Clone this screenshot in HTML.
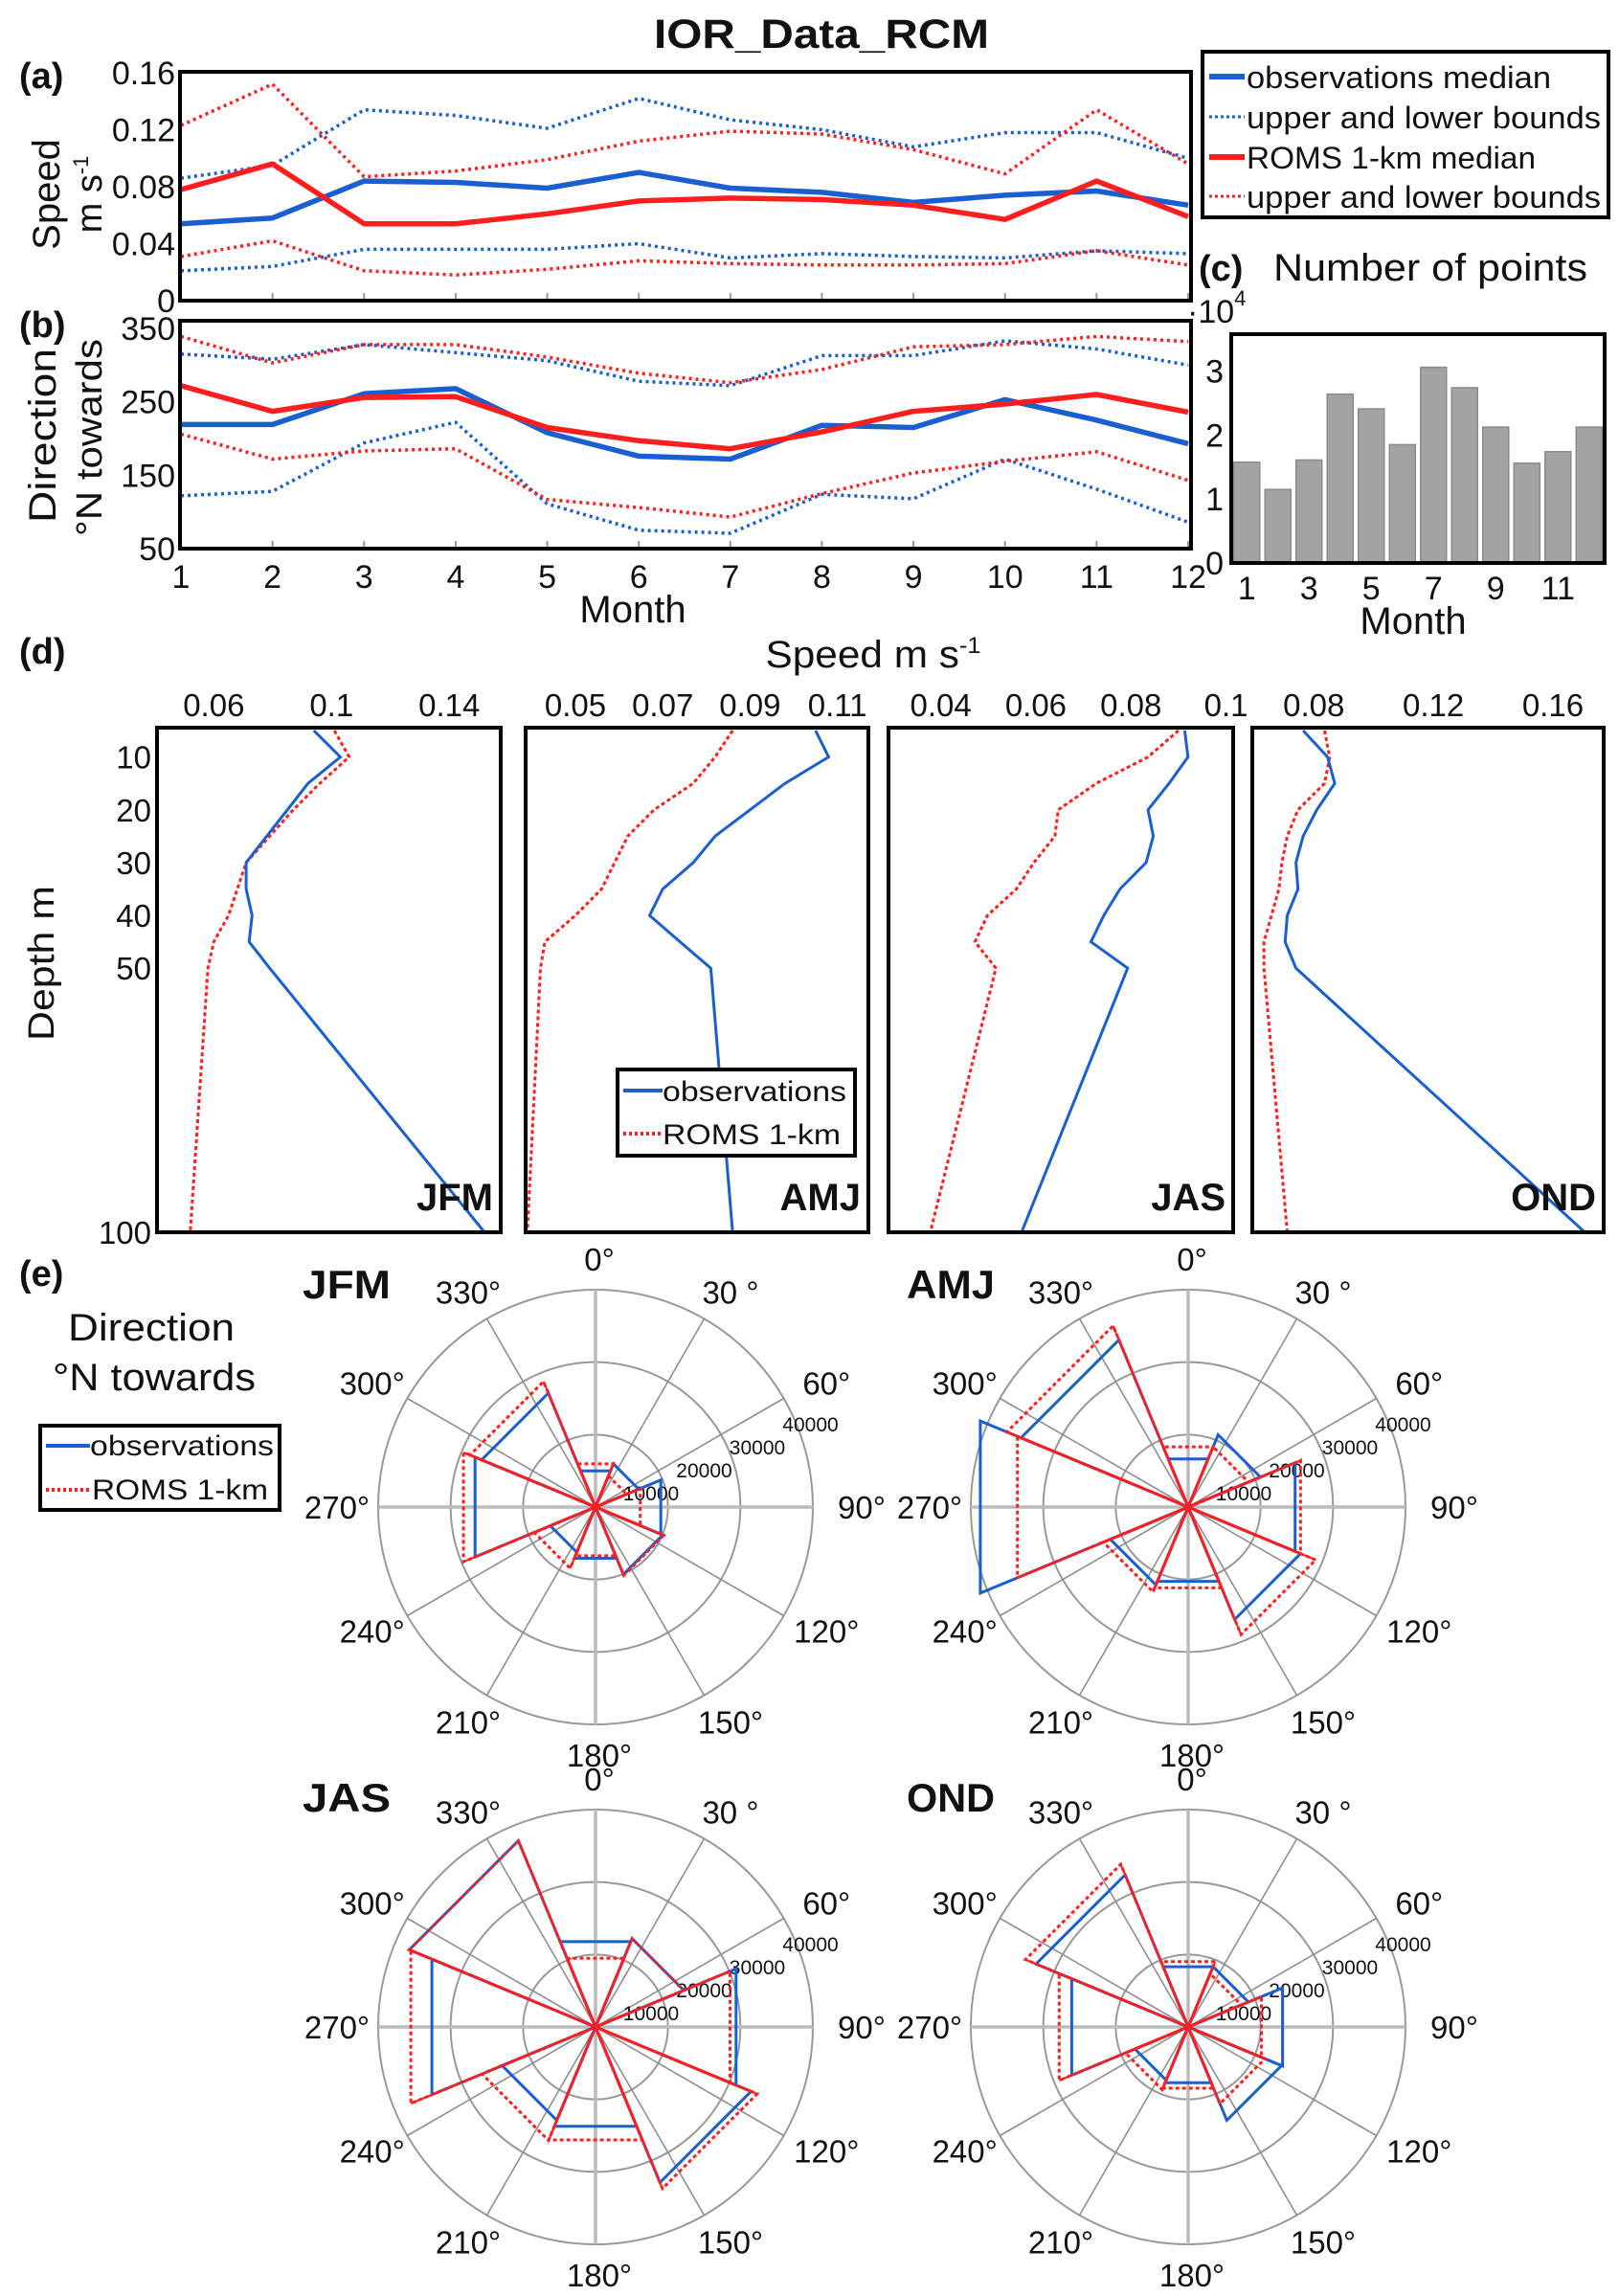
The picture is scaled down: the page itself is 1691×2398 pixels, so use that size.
<!DOCTYPE html>
<html><head><meta charset="utf-8">
<style>
html,body{margin:0;padding:0;background:#fff;}
svg{display:block;}
text{font-family:"Liberation Sans",Arial,sans-serif;fill:#111;}
</style></head>
<body>
<svg id="fig" xmlns="http://www.w3.org/2000/svg" width="1691" height="2398" viewBox="0 0 1691 2398">
<rect x="0" y="0" width="1691" height="2398" fill="#fff"/>
<text x="858" y="50" font-size="43" font-weight="bold" text-anchor="middle" textLength="350" lengthAdjust="spacingAndGlyphs">IOR_Data_RCM</text>

<text x="20" y="92" font-size="38" font-weight="bold">(a)</text>
<text x="20" y="352" font-size="38" font-weight="bold">(b)</text>
<text x="20" y="693" font-size="38" font-weight="bold">(d)</text>
<text x="20" y="1343" font-size="38" font-weight="bold">(e)</text>

<text transform="translate(62,203) rotate(-90)" font-size="40" text-anchor="middle">Speed</text>
<text transform="translate(106,203) rotate(-90)" font-size="38" text-anchor="middle">m s<tspan font-size="22" dy="-14">-1</tspan></text>
<text transform="translate(58,455) rotate(-90)" font-size="40" text-anchor="middle" textLength="182" lengthAdjust="spacingAndGlyphs">Direction</text>
<text transform="translate(106,457) rotate(-90)" font-size="38" text-anchor="middle" textLength="206" lengthAdjust="spacingAndGlyphs">°N towards</text>
<text x="661" y="650" font-size="40" text-anchor="middle">Month</text>

<g id="pa"></g>
<g id="pb"></g>

<g>
<rect x="1256" y="54" width="424" height="173" fill="#fff" stroke="#000" stroke-width="4"/>
<line x1="1263" y1="80" x2="1300" y2="80" stroke="#1a5fd1" stroke-width="6"/>
<text x="1302" y="92" font-size="32" textLength="318" lengthAdjust="spacingAndGlyphs">observations median</text>
<line x1="1263" y1="122" x2="1300" y2="122" stroke="#1a5fd1" stroke-width="3" stroke-dasharray="3 3"/>
<text x="1302" y="134" font-size="32" textLength="370" lengthAdjust="spacingAndGlyphs">upper and lower bounds</text>
<line x1="1263" y1="164" x2="1300" y2="164" stroke="#ff1e1e" stroke-width="6"/>
<text x="1302" y="176" font-size="32" textLength="302" lengthAdjust="spacingAndGlyphs">ROMS 1-km median</text>
<line x1="1263" y1="205" x2="1300" y2="205" stroke="#ff1e1e" stroke-width="3" stroke-dasharray="3 3"/>
<text x="1302" y="217" font-size="32" textLength="370" lengthAdjust="spacingAndGlyphs">upper and lower bounds</text>
</g>

<text x="1252" y="293" font-size="38" font-weight="bold">(c)</text>
<text x="1330" y="293" font-size="40" textLength="328" lengthAdjust="spacingAndGlyphs">Number of points</text>
<text x="1240" y="337" font-size="34">·10<tspan font-size="22" dy="-18">4</tspan></text>
<g id="pc"></g>
<text x="1476" y="662" font-size="40" text-anchor="middle">Month</text>

<text x="912" y="697" font-size="40" text-anchor="middle" textLength="225" lengthAdjust="spacingAndGlyphs">Speed m s<tspan font-size="24" dy="-15">-1</tspan></text>
<text transform="translate(56,1006) rotate(-90)" font-size="38" text-anchor="middle" textLength="162" lengthAdjust="spacingAndGlyphs">Depth m</text>
<g id="pd"></g>
<g>
<rect x="645" y="1117" width="248" height="90" fill="#fff" stroke="#000" stroke-width="4"/>
<line x1="651" y1="1139" x2="692" y2="1139" stroke="#1a5fd1" stroke-width="4"/>
<text x="692" y="1150" font-size="30" textLength="192" lengthAdjust="spacingAndGlyphs">observations</text>
<line x1="651" y1="1184" x2="692" y2="1184" stroke="#ff1e1e" stroke-width="4" stroke-dasharray="3 3"/>
<text x="692" y="1195" font-size="30" textLength="186" lengthAdjust="spacingAndGlyphs">ROMS 1-km</text>
</g>

<text x="158" y="1400" font-size="40" text-anchor="middle" textLength="174" lengthAdjust="spacingAndGlyphs">Direction</text>
<text x="161" y="1452" font-size="40" text-anchor="middle" textLength="212" lengthAdjust="spacingAndGlyphs">°N towards</text>
<g>
<rect x="42" y="1489" width="250" height="88" fill="#fff" stroke="#000" stroke-width="4"/>
<line x1="48" y1="1510" x2="94" y2="1510" stroke="#1a5fd1" stroke-width="4"/>
<text x="94" y="1520" font-size="30" textLength="192" lengthAdjust="spacingAndGlyphs">observations</text>
<line x1="48" y1="1556" x2="94" y2="1556" stroke="#ff1e1e" stroke-width="4" stroke-dasharray="3 3"/>
<text x="96" y="1566" font-size="30" textLength="184" lengthAdjust="spacingAndGlyphs">ROMS 1-km</text>
</g>
<g id="pe"></g>
</svg>

<script>
// ---------- data: panel a (speed, m/s) ----------
const months = [1,2,3,4,5,6,7,8,9,10,11,12];
const obsSpeedMedian = [0.054,0.058,0.084,0.083,0.079,0.090,0.079,0.076,0.069,0.074,0.077,0.067];
const obsSpeedUpper  = [0.086,0.095,0.134,0.130,0.121,0.142,0.127,0.120,0.108,0.118,0.118,0.100];
const obsSpeedLower  = [0.021,0.024,0.036,0.036,0.036,0.040,0.030,0.033,0.031,0.030,0.035,0.033];
const romsSpeedMedian= [0.078,0.096,0.054,0.054,0.061,0.070,0.072,0.071,0.067,0.057,0.084,0.059];
const romsSpeedUpper = [0.123,0.152,0.087,0.091,0.099,0.112,0.119,0.117,0.106,0.089,0.134,0.096];
const romsSpeedLower = [0.031,0.042,0.021,0.018,0.022,0.028,0.026,0.025,0.025,0.026,0.035,0.025];
const speedTicks = [0,0.04,0.08,0.12,0.16];
const speedTickLabels = ["0","0.04","0.08","0.12","0.16"];
// ---------- data: panel b (direction, deg) ----------
const obsDirMedian = [219,219,261,268,208,176,172,218,215,253,225,193];
const obsDirUpper  = [315,308,328,317,306,278,272,313,313,333,322,300];
const obsDirLower  = [122,128,194,222,111,75,71,124,118,172,131,86];
const romsDirMedian= [272,237,256,257,215,197,186,209,237,247,260,236];
const romsDirUpper = [339,303,328,328,311,289,276,294,325,328,339,332];
const romsDirLower = [206,172,183,186,117,106,93,125,153,169,182,143];
const dirTicks = [50,150,250,350];
// ---------- data: panel c (number of points, x1e4) ----------
const pointCounts = [1.575,1.15,1.61,2.64,2.41,1.85,3.06,2.74,2.125,1.56,1.74,2.125];
const countTicks = [0,1,2,3];
const countMonthTicks = [1,3,5,7,9,11];
// ---------- data: panel d (speed profiles) ----------
const depths = [5,10,15,20,25,30,35,40,45,50,100];
const depthTicks = [10,20,30,40,50,100];
const profObsJFM  = [0.094,0.103,0.092,0.085,0.078,0.071,0.071,0.073,0.072,0.079,0.152];
const profRomsJFM = [0.101,0.106,0.096,0.087,0.079,0.071,0.068,0.065,0.060,0.058,0.052];
const profObsAMJ  = [0.105,0.108,0.098,0.090,0.082,0.077,0.070,0.067,0.074,0.081,0.086];
const profRomsAMJ = [0.086,0.082,0.077,0.068,0.062,0.059,0.056,0.050,0.043,0.042,0.039];
const profObsJAS  = [0.0913,0.092,0.088,0.0836,0.0847,0.0832,0.0777,0.0743,0.0716,0.0793,0.057];
const profRomsJAS = [0.090,0.0836,0.0727,0.0647,0.064,0.0596,0.0559,0.0498,0.0472,0.0516,0.0378];
const profObsOND  = [0.0764,0.0846,0.087,0.081,0.0764,0.074,0.0747,0.0711,0.0704,0.074,0.1707];
const profRomsOND = [0.0836,0.0853,0.0836,0.0747,0.0711,0.0693,0.0683,0.0658,0.0633,0.0633,0.0711];
const ticksJFM = [0.06,0.1,0.14];
const ticksAMJ = [0.05,0.07,0.09,0.11];
const ticksJAS = [0.04,0.06,0.08,0.1];
const ticksOND = [0.08,0.12,0.16];
// ---------- data: panel e (direction roses, counts per 45° bin) ----------
const binCenters = [0,45,90,135,180,225,270,315];
const roseObsJFM  = [7200,8600,13000,13400,10200,9000,24000,22700];
const roseRomsJFM = [8600,6200,8900,13600,9700,12200,26300,25000];
const roseObsAMJ  = [9600,14400,21300,22400,14800,15500,41400,33300];
const roseRomsAMJ = [12000,12000,22400,25400,16100,16900,34000,36100];
const roseObsJAS  = [17000,17600,28000,31000,19800,18600,32600,37100];
const roseRomsJAS = [13700,17600,26800,32200,22500,22600,36800,37100];
const roseObsOND  = [12000,12000,18800,18600,11100,10600,23200,30300];
const roseRomsOND = [13000,10600,14600,15300,12200,12500,25700,32400];
const angleLabels = ["0°","30 °","60°","90°","120°","150°","180°","210°","240°","270°","300°","330°"];
const radialLabels = ["10000","20000","30000","40000"];

const NS="http://www.w3.org/2000/svg";
const BLUE="#1a5fd1", RED="#ff1e1e";
function mk(tag, parent, attrs){const e=document.createElementNS(NS,tag);for(const k in attrs)e.setAttribute(k,attrs[k]);parent.appendChild(e);return e;}
function pts(xs,ys){return xs.map((x,i)=>x.toFixed(1)+","+ys[i].toFixed(1)).join(" ");}

// ---------- panel a & b ----------
const AX_L=188, AX_R=1244;
const xMonth = m => 189 + (m-1)*(1241-189)/11;
const yA = v => 314 - v/0.16*238;
const yB = v => 573 - (v-50)*0.7667;
function lineChart(g, yfun, top, bottom, series, ticks, labels, nm){
  months.forEach(m=>{
    let t=mk("line",g,{x1:xMonth(m),x2:xMonth(m),y1:bottom,y2:bottom-8,stroke:"#999","stroke-width":2});
    
    
  });
  ticks.forEach((v,i)=>{
    let t=mk("text",g,{x:183,y:yfun(v)+12,"font-size":34,"text-anchor":"end"});
    t.textContent=labels[i];
    
    
  });
  series.forEach(s=>{
    let p=mk("polyline",g,{points:pts(months.map(xMonth),s.d.map(yfun)),fill:"none",stroke:s.c,"stroke-width":s.w,"stroke-dasharray":s.dash||"none","stroke-linejoin":"round"});
    
    
  });
  let r=mk("rect",g,{x:AX_L,y:top,width:AX_R-AX_L,height:bottom-top,fill:"none",stroke:"#000","stroke-width":4});
  
  
}
const pa=document.getElementById("pa");
lineChart(pa,yA,75,314,[
 {d:obsSpeedUpper,c:BLUE,w:3.5,dash:"3 4",n:"obs-speed-upper"},
 {d:obsSpeedLower,c:BLUE,w:3.5,dash:"3 4",n:"obs-speed-lower"},
 {d:romsSpeedUpper,c:RED,w:3.5,dash:"3 4",n:"roms-speed-upper"},
 {d:romsSpeedLower,c:RED,w:3.5,dash:"3 4",n:"roms-speed-lower"},
 {d:obsSpeedMedian,c:BLUE,w:5.5,n:"obs-speed-median"},
 {d:romsSpeedMedian,c:RED,w:5.5,n:"roms-speed-median"}],speedTicks,speedTickLabels,"panel-a");
const pb=document.getElementById("pb");
lineChart(pb,yB,335,573,[
 {d:obsDirUpper,c:BLUE,w:3.5,dash:"3 4",n:"obs-dir-upper"},
 {d:obsDirLower,c:BLUE,w:3.5,dash:"3 4",n:"obs-dir-lower"},
 {d:romsDirUpper,c:RED,w:3.5,dash:"3 4",n:"roms-dir-upper"},
 {d:romsDirLower,c:RED,w:3.5,dash:"3 4",n:"roms-dir-lower"},
 {d:obsDirMedian,c:BLUE,w:5.5,n:"obs-dir-median"},
 {d:romsDirMedian,c:RED,w:5.5,n:"roms-dir-median"}],dirTicks,dirTicks.map(String),"panel-b");
months.forEach(m=>{
  let t=mk("text",pb,{x:xMonth(m),y:614,"font-size":34,"text-anchor":"middle"});
  t.textContent=String(m);
  
  
});

// ---------- panel c ----------
const pc=document.getElementById("pc");
const cL=1286,cR=1676,cT=349,cB=588;
const xC = m => cL + (m-0.5)*(cR-cL)/12;
const yC = v => cB - v*66.8;
pointCounts.forEach((v,i)=>{
  let b=mk("rect",pc,{x:xC(months[i])-13.5,y:yC(v),width:27,height:cB-yC(v),fill:"#a3a3a3",stroke:"#8a8a8a","stroke-width":1.5});
  
  
});
let cbox=mk("rect",pc,{x:cL,y:cT,width:cR-cL,height:cB-cT,fill:"none",stroke:"#000","stroke-width":4});


countTicks.forEach(v=>{
  let t=mk("text",pc,{x:1278,y:yC(v)+12,"font-size":34,"text-anchor":"end"});
  t.textContent=String(v);
  
  
});
countMonthTicks.forEach(m=>{
  let t=mk("text",pc,{x:xC(m),y:626,"font-size":34,"text-anchor":"middle"});
  t.textContent=String(m);
  
  
});

// ---------- panel d ----------
const pd=document.getElementById("pd");
const dTop=760,dBot=1287;
const yD = d => dTop + (d-4.45)*(dBot-dTop)/(100-4.45);
function xAxis(l,r,v0,v1){return v => l + (v-v0)/(v1-v0)*(r-l);}
const dPanels=[
 {s:"JFM",l:164,r:523,x:xAxis(164,523,0.0407,0.1575),ticks:ticksJFM,obs:profObsJFM,roms:profRomsJFM},
 {s:"AMJ",l:549,r:907,x:xAxis(549,907,0.0386,0.1171),ticks:ticksAMJ,obs:profObsAMJ,roms:profRomsAMJ},
 {s:"JAS",l:928,r:1288,x:xAxis(928,1288,0.029,0.1015),ticks:ticksJAS,obs:profObsJAS,roms:profRomsJAS},
 {s:"OND",l:1308,r:1675,x:xAxis(1308,1675,0.0594,0.177),ticks:ticksOND,obs:profObsOND,roms:profRomsOND}];
dPanels.forEach(P=>{
  const g=mk("g",pd,{});
  
  
  const cid="clip"+P.s;
  const cp=mk("clipPath",g,{id:cid});
  mk("rect",cp,{x:P.l,y:dTop,width:P.r-P.l,height:dBot-dTop});
  let rl=mk("polyline",g,{points:pts(P.roms.map(P.x),depths.map(yD)),fill:"none",stroke:RED,"stroke-width":3,"stroke-dasharray":"4 3","clip-path":"url(#"+cid+")"});
  
  
  let ol=mk("polyline",g,{points:pts(P.obs.map(P.x),depths.map(yD)),fill:"none",stroke:BLUE,"stroke-width":3,"clip-path":"url(#"+cid+")"});
  
  
  let bx=mk("rect",g,{x:P.l,y:dTop,width:P.r-P.l,height:dBot-dTop,fill:"none",stroke:"#000","stroke-width":4});
  
  
  P.ticks.forEach(v=>{
    let t=mk("text",g,{x:P.x(v),y:748,"font-size":33,"text-anchor":"middle"});
    t.textContent=String(v);
    
    
  });
  let sl=mk("text",g,{x:P.r-8,y:1264,"font-size":40,"font-weight":"bold","text-anchor":"end"});
  sl.textContent=P.s;
  
  
});
depthTicks.forEach(d=>{
  let t=mk("text",pd,{x:158,y:yD(d)+12,"font-size":33,"text-anchor":"end"});
  t.textContent=String(d);
  
  
});

// ---------- panel e ----------
const pe=document.getElementById("pe");
const R=227, RMAX=40000;
const rScale = v => v/RMAX*R;
const roses=[
 {s:"JFM",cx:622,cy:1574,obs:roseObsJFM,roms:roseRomsJFM,lx:316,ly:1356},
 {s:"AMJ",cx:1241,cy:1574,obs:roseObsAMJ,roms:roseRomsAMJ,lx:947,ly:1356},
 {s:"JAS",cx:622,cy:2117,obs:roseObsJAS,roms:roseRomsJAS,lx:316,ly:1892},
 {s:"OND",cx:1241,cy:2117,obs:roseObsOND,roms:roseRomsOND,lx:947,ly:1892}];
function P2(cx,cy,r,deg){const a=deg*Math.PI/180;return [cx+r*Math.sin(a),cy-r*Math.cos(a)];}
roses.forEach(Q=>{
  const g=mk("g",pe,{});
  
  
  [1,2,3].forEach(k=>{
    let c=mk("circle",g,{cx:Q.cx,cy:Q.cy,r:R*k/3,fill:"none",stroke:"#999","stroke-width":2});
    
    
  });
  for(let a=0;a<360;a+=30){
    const p=P2(Q.cx,Q.cy,R,a);
    const major=(a%90===0);
    let l=mk("line",g,{x1:Q.cx,y1:Q.cy,x2:p[0],y2:p[1],stroke:major?"#bbb":"#8f8f8f","stroke-width":major?3.5:1.6});
    
    
  }
  angleLabels.forEach((t,i)=>{
    const a=i*Math.PI/6;
    const x=Q.cx+ 274*Math.sin(a) + 4;
    const y=Q.cy- 255*Math.cos(a) + 12 - 4*Math.cos(a);
    let tx=mk("text",g,{x:x,y:y,"font-size":33,"text-anchor":"middle"});
    tx.textContent=t;
    
    
  });
  radialLabels.forEach((t,i)=>{
    let tx=mk("text",g,{x:Q.cx+58+i*55.5,y:Q.cy-7-i*24,"font-size":21,"text-anchor":"middle"});
    tx.textContent=t;
    
    
  });
  const drawRose=(vals,color,dash,nm)=>{
    vals.forEach((v,i)=>{
      const c=binCenters[i], r=rScale(v);
      const a=P2(Q.cx,Q.cy,r,c-22.5), b=P2(Q.cx,Q.cy,r,c+22.5);
      let p=mk("path",g,{d:`M${Q.cx},${Q.cy}L${a[0].toFixed(1)},${a[1].toFixed(1)}L${b[0].toFixed(1)},${b[1].toFixed(1)}Z`,fill:"none",stroke:color,"stroke-width":3,"stroke-dasharray":dash,"stroke-linejoin":"miter"});
      
      
    });
  };
  drawRose(Q.obs,BLUE,"none","obs-rose-"+Q.s);
  drawRose(Q.roms,RED,"4 3","roms-rose-"+Q.s);
  Q.roms.forEach((v,i)=>{
    const c=binCenters[i], r=rScale(v);
    [c-22.5,c+22.5].forEach(e=>{
      const a=P2(Q.cx,Q.cy,r,e);
      let l=mk("line",g,{x1:Q.cx,y1:Q.cy,x2:a[0],y2:a[1],stroke:RED,"stroke-width":2});
      
      
    });
  });
  let st=mk("text",g,{x:Q.lx,y:Q.ly,"font-size":42,"font-weight":"bold",textLength:92,lengthAdjust:"spacingAndGlyphs"});
  st.textContent=Q.s;
  
  
});
</script>
</body></html>
